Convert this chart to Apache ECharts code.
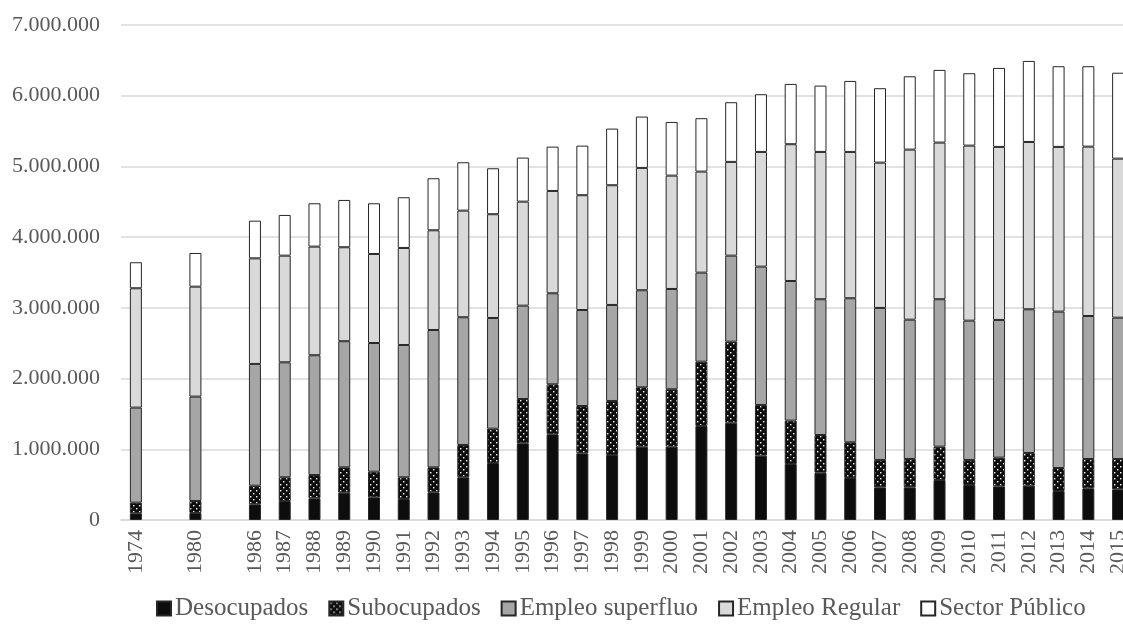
<!DOCTYPE html>
<html>
<head>
<meta charset="utf-8">
<script src="https://cdn.jsdelivr.net/npm/echarts@6/dist/echarts.min.js"></script>
<style>html,body{margin:0;padding:0;background:#fff;overflow:hidden;}#c{width:1136px;height:631px;}</style>
</head>
<body>
<div id="c"></div>
<script>
const years = ['1974','','1980','','1986','1987','1988','1989','1990','1991','1992','1993','1994','1995','1996','1997','1998','1999','2000','2001','2002','2003','2004','2005','2006','2007','2008','2009','2010','2011','2012','2013','2014','2015'];
const desocupados = [95,null,100,null,222,269,307,386,321,297,392,604,806,1085,1212,943,919,1037,1037,1330,1376,910,792,669,594,462,462,566,495,476,485,410,448,434];
const subocupados = [150,null,169,null,263,335,329,359,362,307,353,457,485,626,707,669,764,840,812,909,1146,717,613,533,505,387,401,471,354,406,463,325,415,429];
const superfluo = [1344,null,1476,null,1722,1626,1694,1783,1820,1871,1942,1806,1566,1320,1287,1358,1358,1372,1418,1259,1216,1956,1975,1920,2037,2150,1970,2085,1970,1947,2032,2212,2022,1998];
const regular = [1688,null,1555,null,1493,1508,1536,1329,1259,1372,1410,1508,1467,1471,1447,1623,1693,1730,1603,1429,1326,1622,1934,2083,2069,2055,2405,2215,2475,2447,2366,2329,2395,2249];
const publico = [368,null,476,null,533,576,613,669,717,717,736,684,650,623,627,701,801,726,759,755,844,816,853,938,1004,1052,1037,1028,1024,1117,1146,1141,1137,1215];
const seriesNames = ['Desocupados','Subocupados','Empleo superfluo','Empleo Regular','Sector Público'];
const yTicks = [0,1000000,2000000,3000000,4000000,5000000,6000000,7000000];

function scale(a){ return a.map(v => v == null ? null : v * 1000); }

// dotted pattern for Subocupados
const pc = document.createElement('canvas');
pc.width = 6; pc.height = 6;
const px = pc.getContext('2d');
px.fillStyle = '#0d0d0d'; px.fillRect(0,0,6,6);
px.fillStyle = '#ffffff';
px.fillRect(1,1,1.4,1.4);
px.fillRect(4,4,1.4,1.4);

const fills = ['#0d0d0d', {image: pc, repeat: 'repeat'}, '#a6a6a6', '#d9d9d9', '#ffffff'];
const dataSets = [desocupados, subocupados, superfluo, regular, publico];
const font = '"Liberation Serif", "DejaVu Serif", serif';

function fmt(v){ return String(v).replace(/\B(?=(\d{3})+(?!\d))/g, '.'); }

const chart = echarts.init(document.getElementById('c'), null, {renderer:'canvas'});
chart.setOption({
  animation: false,
  backgroundColor: '#ffffff',
  grid: { left: 121, top: 25, width: 1012, height: 495, containLabel: false },
  legend: {
    bottom: 5, left: 151,
    icon: 'rect', itemWidth: 14, itemHeight: 14, itemGap: 20,
    textStyle: { fontFamily: font, fontSize: 25, color: '#595959', padding: [0,0,0,-1] },
    data: seriesNames
  },
  xAxis: {
    type: 'category', data: years,
    axisTick: { show: false },
    axisLine: { lineStyle: { color: '#d9d9d9', width: 1.5 } },
    axisLabel: { rotate: 90, interval: 0, margin: 10, fontFamily: font, fontSize: 22, color: '#595959' }
  },
  yAxis: {
    type: 'value', min: yTicks[0], max: yTicks[yTicks.length-1], interval: 1000000,
    axisLine: { show: false }, axisTick: { show: false },
    splitLine: { lineStyle: { color: '#d9d9d9', width: 1.5 } },
    axisLabel: { formatter: fmt, margin: 21, fontFamily: font, fontSize: 22, color: '#595959' }
  },
  series: seriesNames.map((n, i) => ({
    name: n, type: 'bar', stack: 'total', barWidth: 12,
    data: scale(dataSets[i]),
    itemStyle: { color: fills[i], borderColor: '#262626', borderWidth: 1 }
  }))
});
</script>
</body>
</html>
